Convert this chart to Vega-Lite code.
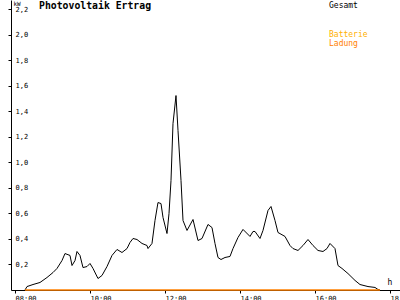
{
  "$schema": "https://vega.github.io/schema/vega-lite/v6.json",
  "width": 389,
  "height": 290,
  "autosize": "none",
  "padding": {"left": 11, "top": 0, "right": 0, "bottom": 10},
  "background": "white",
  "title": {"text": "Photovoltaik Ertrag", "anchor": "start", "frame": "group", "orient": "top", "offset": -11, "dx": 28, "font": "DejaVu Sans Mono", "fontSize": 9.8, "fontWeight": "bold", "color": "black"},
  "config": {
    "view": {"stroke": null},
    "axisX": {"grid": false, "domainColor": "black", "tickColor": "black", "tickSize": 3, "labelPadding": 1,
      "labelFont": "DejaVu Sans Mono", "labelFontSize": 7, "labelColor": "black",
      "labelAlign": "left", "labelDx": -4, "labelBaseline": "top", "labelFlush": false, "labelOverlap": false,
      "titleFont": "DejaVu Sans Mono", "titleFontSize": 8, "titleFontWeight": "normal", "titleColor": "black",
      "titleAlign": "left", "titleBaseline": "middle", "titleAnchor": null, "titleX": 376, "titleY": -8},
    "axisY": {"grid": false, "domainColor": "black", "tickColor": "black", "tickSize": 3, "labelPadding": -7,
      "labelFont": "DejaVu Sans Mono", "labelFontSize": 7, "labelColor": "black",
      "labelAlign": "left", "labelBaseline": "middle", "labelFlush": false, "labelOverlap": false,
      "titleFont": "DejaVu Sans Mono", "titleFontSize": 6, "titleFontWeight": "normal", "titleColor": "black",
      "titleAngle": 0, "titleAlign": "left", "titleBaseline": "middle", "titleAnchor": null, "titleX": 2, "titleY": 3},
    "legend": {"orient": "none", "title": null, "symbolSize": 0, "symbolOpacity": 0, "symbolStrokeWidth": 0,
      "labelOffset": 0, "labelFont": "DejaVu Sans Mono", "labelFontSize": 8, "rowPadding": 1, "padding": 0, "labelLimit": 0}
  },
  "datasets": {
    "pv": [
    {"t": 8.267, "kw": 0, "s": "Gesamt"},
    {"t": 8.32, "kw": 0.027, "s": "Gesamt"},
    {"t": 8.48, "kw": 0.043, "s": "Gesamt"},
    {"t": 8.667, "kw": 0.059, "s": "Gesamt"},
    {"t": 8.853, "kw": 0.098, "s": "Gesamt"},
    {"t": 9.013, "kw": 0.137, "s": "Gesamt"},
    {"t": 9.12, "kw": 0.169, "s": "Gesamt"},
    {"t": 9.253, "kw": 0.231, "s": "Gesamt"},
    {"t": 9.333, "kw": 0.286, "s": "Gesamt"},
    {"t": 9.467, "kw": 0.271, "s": "Gesamt"},
    {"t": 9.52, "kw": 0.192, "s": "Gesamt"},
    {"t": 9.6, "kw": 0.231, "s": "Gesamt"},
    {"t": 9.653, "kw": 0.302, "s": "Gesamt"},
    {"t": 9.733, "kw": 0.271, "s": "Gesamt"},
    {"t": 9.813, "kw": 0.176, "s": "Gesamt"},
    {"t": 9.92, "kw": 0.184, "s": "Gesamt"},
    {"t": 10.0, "kw": 0.208, "s": "Gesamt"},
    {"t": 10.08, "kw": 0.169, "s": "Gesamt"},
    {"t": 10.213, "kw": 0.09, "s": "Gesamt"},
    {"t": 10.32, "kw": 0.114, "s": "Gesamt"},
    {"t": 10.453, "kw": 0.184, "s": "Gesamt"},
    {"t": 10.587, "kw": 0.271, "s": "Gesamt"},
    {"t": 10.72, "kw": 0.318, "s": "Gesamt"},
    {"t": 10.853, "kw": 0.294, "s": "Gesamt"},
    {"t": 10.987, "kw": 0.325, "s": "Gesamt"},
    {"t": 11.067, "kw": 0.373, "s": "Gesamt"},
    {"t": 11.147, "kw": 0.404, "s": "Gesamt"},
    {"t": 11.253, "kw": 0.396, "s": "Gesamt"},
    {"t": 11.387, "kw": 0.365, "s": "Gesamt"},
    {"t": 11.52, "kw": 0.349, "s": "Gesamt"},
    {"t": 11.547, "kw": 0.325, "s": "Gesamt"},
    {"t": 11.653, "kw": 0.365, "s": "Gesamt"},
    {"t": 11.733, "kw": 0.545, "s": "Gesamt"},
    {"t": 11.813, "kw": 0.686, "s": "Gesamt"},
    {"t": 11.893, "kw": 0.678, "s": "Gesamt"},
    {"t": 11.947, "kw": 0.569, "s": "Gesamt"},
    {"t": 12.053, "kw": 0.443, "s": "Gesamt"},
    {"t": 12.107, "kw": 0.6, "s": "Gesamt"},
    {"t": 12.16, "kw": 0.859, "s": "Gesamt"},
    {"t": 12.213, "kw": 1.305, "s": "Gesamt"},
    {"t": 12.293, "kw": 1.525, "s": "Gesamt"},
    {"t": 12.347, "kw": 1.251, "s": "Gesamt"},
    {"t": 12.427, "kw": 0.859, "s": "Gesamt"},
    {"t": 12.48, "kw": 0.545, "s": "Gesamt"},
    {"t": 12.587, "kw": 0.467, "s": "Gesamt"},
    {"t": 12.747, "kw": 0.553, "s": "Gesamt"},
    {"t": 12.88, "kw": 0.388, "s": "Gesamt"},
    {"t": 12.987, "kw": 0.404, "s": "Gesamt"},
    {"t": 13.147, "kw": 0.514, "s": "Gesamt"},
    {"t": 13.253, "kw": 0.49, "s": "Gesamt"},
    {"t": 13.333, "kw": 0.365, "s": "Gesamt"},
    {"t": 13.413, "kw": 0.255, "s": "Gesamt"},
    {"t": 13.493, "kw": 0.239, "s": "Gesamt"},
    {"t": 13.6, "kw": 0.255, "s": "Gesamt"},
    {"t": 13.733, "kw": 0.263, "s": "Gesamt"},
    {"t": 13.813, "kw": 0.325, "s": "Gesamt"},
    {"t": 13.947, "kw": 0.412, "s": "Gesamt"},
    {"t": 14.08, "kw": 0.475, "s": "Gesamt"},
    {"t": 14.267, "kw": 0.42, "s": "Gesamt"},
    {"t": 14.347, "kw": 0.459, "s": "Gesamt"},
    {"t": 14.4, "kw": 0.459, "s": "Gesamt"},
    {"t": 14.533, "kw": 0.404, "s": "Gesamt"},
    {"t": 14.613, "kw": 0.467, "s": "Gesamt"},
    {"t": 14.747, "kw": 0.624, "s": "Gesamt"},
    {"t": 14.827, "kw": 0.655, "s": "Gesamt"},
    {"t": 14.933, "kw": 0.545, "s": "Gesamt"},
    {"t": 15.013, "kw": 0.451, "s": "Gesamt"},
    {"t": 15.2, "kw": 0.42, "s": "Gesamt"},
    {"t": 15.333, "kw": 0.349, "s": "Gesamt"},
    {"t": 15.413, "kw": 0.325, "s": "Gesamt"},
    {"t": 15.547, "kw": 0.31, "s": "Gesamt"},
    {"t": 15.68, "kw": 0.349, "s": "Gesamt"},
    {"t": 15.813, "kw": 0.396, "s": "Gesamt"},
    {"t": 15.947, "kw": 0.349, "s": "Gesamt"},
    {"t": 16.08, "kw": 0.31, "s": "Gesamt"},
    {"t": 16.213, "kw": 0.302, "s": "Gesamt"},
    {"t": 16.32, "kw": 0.325, "s": "Gesamt"},
    {"t": 16.4, "kw": 0.365, "s": "Gesamt"},
    {"t": 16.533, "kw": 0.325, "s": "Gesamt"},
    {"t": 16.613, "kw": 0.192, "s": "Gesamt"},
    {"t": 16.72, "kw": 0.169, "s": "Gesamt"},
    {"t": 16.88, "kw": 0.129, "s": "Gesamt"},
    {"t": 17.067, "kw": 0.075, "s": "Gesamt"},
    {"t": 17.2, "kw": 0.043, "s": "Gesamt"},
    {"t": 17.413, "kw": 0.027, "s": "Gesamt"},
    {"t": 17.6, "kw": 0.02, "s": "Gesamt"},
    {"t": 17.68, "kw": 0.004, "s": "Gesamt"},
    {"t": 17.733, "kw": 0, "s": "Gesamt"},
    {"t": 8.267, "kw": 0, "s": "Ladung"},
    {"t": 17.733, "kw": 0, "s": "Ladung"}
    ]
  },
  "data": {"name": "pv"},
  "encoding": {
    "x": {"field": "t", "type": "quantitative", "title": "h",
      "scale": {"domain": [7.8933, 18.2667], "nice": false, "zero": false},
      "axis": {"values": [8, 10, 12, 14, 16, 18], "labelOverlap": false,
        "labelExpr": "(datum.value < 10 ? '0' : '') + datum.value + ':00'"}},
    "y": {"field": "kw", "type": "quantitative", "title": "kW",
      "scale": {"domain": [0, 2.2745], "nice": false},
      "axis": {"values": [0.2, 0.4, 0.6, 0.8, 1.0, 1.2, 1.4, 1.6, 1.8, 2.0, 2.2], "labelOverlap": false,
        "labelExpr": "replace(format(datum.value, '.1f'), '.', ',')"}}
  },
  "layer": [
    {"transform": [{"filter": "datum.s == 'Gesamt'"}],
     "mark": {"type": "line", "strokeWidth": 1},
     "encoding": {
      "color": {"field": "s", "type": "nominal",
        "scale": {"domain": ["Gesamt"], "range": ["black"]},
        "legend": {"legendX": 310, "legendY": 2, "labelColor": "black"}}
     }},
    {"transform": [{"filter": "datum.s == 'Ladung'"}],
     "mark": {"type": "line", "strokeWidth": 1.5},
     "encoding": {
      "stroke": {"field": "s", "type": "nominal",
        "scale": {"domain": ["Batterie", "Ladung"], "range": ["#ffb000", "#ff8000"]},
        "legend": {"legendX": 310, "legendY": 31,
          "encode": {"labels": {"update": {"fill": {"scale": "stroke", "field": "value"}}}}}}
     }}
  ]
}
